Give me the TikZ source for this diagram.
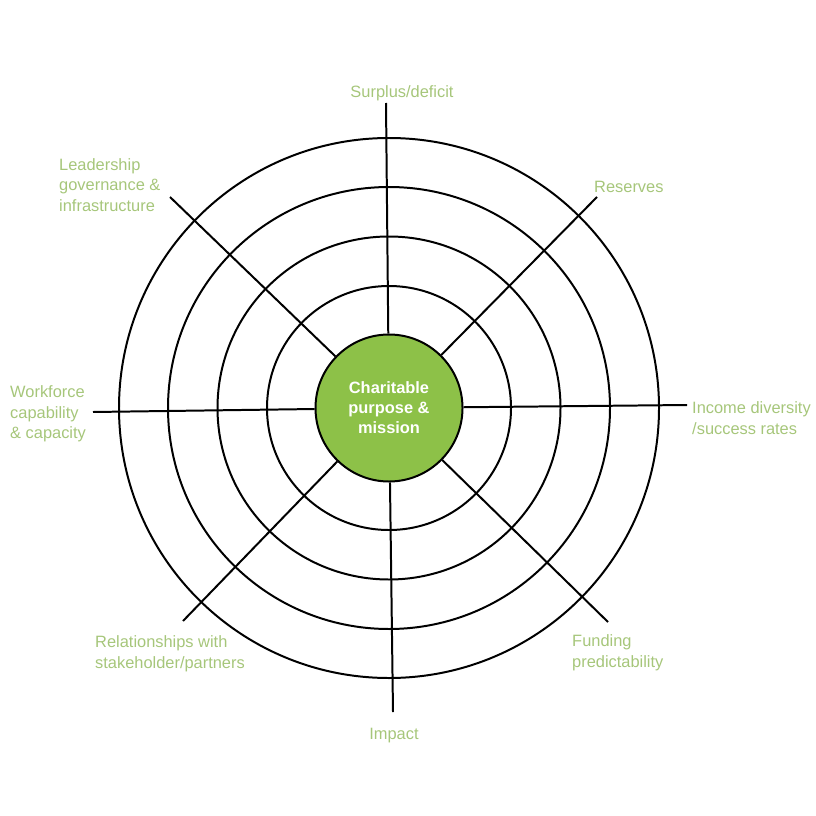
\documentclass[tikz,border=0pt]{standalone}
\usepackage{fontspec}
\setmainfont{Liberation Sans}

\definecolor{labelgreen}{RGB}{166,198,122}
\definecolor{hubgreen}{RGB}{141,193,72}

\begin{document}
\begin{tikzpicture}[x=0.03cm, y=-0.03cm,
  ring/.style={line width=1.7pt},
  spoke/.style={line width=1.7pt},
  lbl/.style={text=labelgreen, font=\fontsize{14}{17.5}\selectfont, inner sep=0pt, align=left}]

\useasboundingbox (0,0) rectangle (816,816);

% Hub
\node[circle, draw, line width=1.7pt, fill=hubgreen, minimum size=4.41cm, inner sep=0pt,
  text=white, font=\bfseries\fontsize{14}{17}\selectfont, align=center]
  (hub) at (389,408) {Charitable\\purpose \&\\mission};

% Rings
\foreach \r in {270,221,171.5,122}
  \draw[ring] (hub.center) circle[radius=\r*0.03cm];

% Spoke ends
\coordinate (surplus)    at (386,103);
\coordinate (reserves)   at (597,197);
\coordinate (income)     at (687,405);
\coordinate (funding)    at (608,622);
\coordinate (impact)     at (393,712);
\coordinate (relations)  at (183,621);
\coordinate (workforce)  at (93,412);
\coordinate (leadership) at (170,197);

% Spokes
\foreach \e in {surplus,reserves,income,funding,impact,relations,workforce,leadership}
  \draw[spoke] (hub) -- (\e);

% Labels
\node[lbl] (surpluslbl) at (402,93) {Surplus/deficit};
\node[lbl, anchor=west] (reserveslbl) at (594,187) {Reserves};
\node[lbl, anchor=west] (incomelbl) at (692,418) {Income diversity\\/success rates};
\node[lbl, anchor=west] (fundinglbl) at (572,653) {Funding\\predictability};
\node[lbl] (impactlbl) at (394,736) {Impact};
\node[lbl, anchor=west] (relationslbl) at (95,654) {Relationships with\\stakeholder/partners};
\node[lbl, anchor=west] (workforcelbl) at (10,414) {Workforce\\capability\\\& capacity};
\node[lbl, anchor=west] (leadershiplbl) at (59,185) {Leadership\\governance \&\\infrastructure};

\end{tikzpicture}
\end{document}
